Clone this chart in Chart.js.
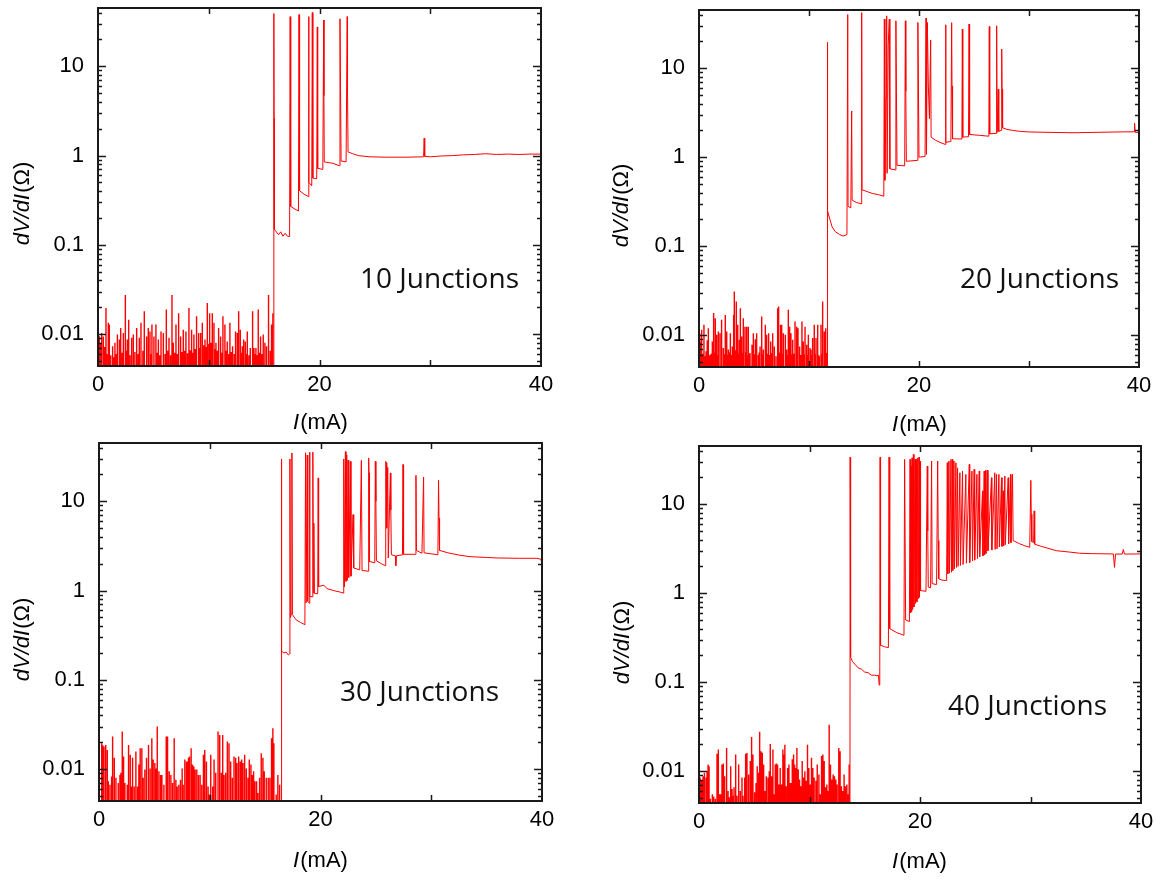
<!DOCTYPE html>
<html>
<head>
<meta charset="utf-8">
<title>dV/dI vs I</title>
<script src="https://cdn.jsdelivr.net/npm/chart.js@4.4.1/dist/chart.umd.min.js"></script>
<style>
  body { margin: 0; background: #fff; width: 1167px; height: 880px; position: relative; overflow: hidden; }
  canvas { position: absolute; }
</style>
</head>
<body>
<canvas id="c10" width="580" height="440" style="left:0;top:0"></canvas>
<canvas id="c20" width="587" height="440" style="left:580px;top:0"></canvas>
<canvas id="c30" width="580" height="440" style="left:0;top:440px"></canvas>
<canvas id="c40" width="587" height="440" style="left:580px;top:440px"></canvas>
<script>
// ---- axes ----
const xTicks = [0, 20, 40];
const yTicks = [0.01, 0.1, 1, 10];
const names = ['10 Junctions', '20 Junctions', '30 Junctions', '40 Junctions'];
// trace drops below the bottom of the axis between noise spikes
const noiseFloor = 0.002;

// ---- 10 junctions ----
const spikeI10 = [0.05,0.12,0.2,0.33,0.48,0.6,0.72,0.8,0.93,1.02,1.15,1.32,1.42,1.53,1.65,1.75,1.93,2.05,2.18,2.29,2.47,2.56,2.65,2.77,2.9,3.04,3.19,3.33,3.49,3.62,3.73,3.88,4.05,4.18,4.39,4.54,4.69,4.78,4.87,5.05,5.23,5.35,5.45,5.57,5.69,5.9,6.05,6.17,6.3,6.41,6.55,6.68,6.8,6.92,7.04,7.16,7.28,7.46,7.58,7.7,7.82,7.94,8.08,8.21,8.33,8.45,8.55,8.66,8.78,8.9,9.09,9.18,9.27,9.42,9.55,9.66,9.77,9.87,9.95,10.04,10.11,10.2,10.32,10.47,10.56,10.65,10.77,10.89,11.07,11.18,11.28,11.46,11.55,11.67,11.8,11.91,12.03,12.15,12.3,12.42,12.58,12.7,12.85,12.95,13.03,13.15,13.3,13.4,13.48,13.62,13.75,13.96,14.08,14.17,14.26,14.38,14.47,14.58,14.68,14.8,14.92,15.07,15.22,15.35,15.43,15.55,15.67,15.79];
const spikeR10 = [0.0085,0.0095,0.008,0.0103,0.0094,0.0072,0.0196,0.006,0.0134,0.0128,0.0058,0.0073,0.0055,0.008,0.006,0.0099,0.0087,0.0117,0.0062,0.0103,0.0275,0.0065,0.0087,0.0145,0.0058,0.0091,0.0099,0.0063,0.0117,0.006,0.0091,0.0134,0.0065,0.0181,0.0094,0.0117,0.0107,0.006,0.0128,0.0094,0.0128,0.0062,0.0087,0.0058,0.0107,0.0103,0.006,0.0189,0.0065,0.0091,0.0058,0.0275,0.008,0.0062,0.0128,0.006,0.0172,0.0094,0.0063,0.0112,0.0065,0.0107,0.0061,0.0196,0.0066,0.0112,0.0062,0.0099,0.0068,0.0159,0.0103,0.007,0.0103,0.0134,0.0075,0.0087,0.0072,0.0223,0.0078,0.0095,0.0172,0.008,0.0172,0.0134,0.0068,0.008,0.0065,0.0117,0.0094,0.0062,0.0159,0.0128,0.0065,0.0083,0.006,0.0134,0.0063,0.0073,0.006,0.0107,0.0103,0.0181,0.0112,0.0062,0.0073,0.0087,0.0083,0.006,0.0107,0.0058,0.007,0.0181,0.007,0.006,0.007,0.0058,0.0189,0.0062,0.0094,0.006,0.0099,0.008,0.0073,0.006,0.0275,0.0065,0.0128,0.0172];
const curveI10 = [15.88,15.88,15.9,15.92,16.1,16.3,16.5,16.7,16.9,17.1,17.3,17.35,17.4,17.7,18.1,18.15,18.2,18.6,19.0,19.02,19.05,19.3,19.35,19.4,19.75,19.8,19.82,19.85,20.3,20.38,20.4,20.43,21.2,21.8,21.85,21.9,21.95,22.4,22.5,22.53,22.58,23,23.5,24.5,26,28,29.4,29.45,29.5,30,31,32,33,34,35,36,37,38,39,40];
const curveR10 = [0.002,39,2.6,0.15,0.14,0.13,0.14,0.125,0.135,0.125,0.124,36,0.27,0.255,0.24,38,0.405,0.37,0.347,36,0.5,0.46,40,0.56,0.55,27.6,4.4,0.72,0.7,33,4.7,0.85,0.82,0.77,34,5.5,0.87,0.85,36,5.2,1.1,1.05,1.0,0.97,0.96,0.96,0.97,1.57,0.98,0.97,0.99,1.0,1.02,1.03,1.05,1.03,1.04,1.03,1.04,1.04];

// ---- 20 junctions ----
const spikeI20 = [0.03,0.09,0.17,0.24,0.35,0.45,0.55,0.64,0.75,0.85,0.93,1.0,1.1,1.21,1.33,1.4,1.48,1.61,1.68,1.76,1.91,2.0,2.09,2.21,2.3,2.39,2.52,2.6,2.67,2.76,2.85,2.95,3.03,3.15,3.21,3.3,3.39,3.52,3.6,3.67,3.76,3.88,3.95,4.03,4.18,4.26,4.33,4.4,4.48,4.56,4.64,4.82,4.94,5.03,5.12,5.24,5.39,5.47,5.55,5.7,5.78,5.85,6.03,6.15,6.25,6.33,6.42,6.52,6.6,6.7,6.85,7.0,7.15,7.24,7.33,7.42,7.52,7.6,7.67,7.85,7.97,8.05,8.12,8.2,8.27,8.36,8.45,8.52,8.62,8.73,8.88,9.0,9.1,9.18,9.27,9.36,9.48,9.56,9.64,9.79,9.87,9.94,10.09,10.18,10.26,10.33,10.48,10.56,10.64,10.79,10.87,10.94,11.09,11.17,11.24,11.39,11.52,11.6];
const spikeR20 = [0.0095,0.0105,0.0085,0.0115,0.0062,0.0131,0.0058,0.0066,0.0088,0.012,0.0059,0.006,0.0062,0.0085,0.0178,0.0064,0.0155,0.0101,0.006,0.011,0.0105,0.0063,0.0149,0.0072,0.0061,0.0169,0.011,0.006,0.0069,0.0064,0.0105,0.006,0.0075,0.0169,0.031,0.0068,0.0239,0.0131,0.0062,0.0089,0.0201,0.0097,0.0063,0.0155,0.0125,0.0065,0.0125,0.006,0.0125,0.0062,0.0063,0.0078,0.0105,0.0061,0.009,0.0105,0.006,0.0064,0.0075,0.0162,0.0061,0.0069,0.0131,0.0101,0.0062,0.0105,0.006,0.0085,0.0063,0.0105,0.0075,0.0058,0.0201,0.021,0.0064,0.0131,0.0131,0.0062,0.0105,0.0101,0.0069,0.006,0.0193,0.0063,0.0125,0.0105,0.0061,0.0089,0.0062,0.0143,0.0125,0.012,0.0062,0.0075,0.006,0.0143,0.0085,0.0061,0.0125,0.0078,0.006,0.0101,0.0072,0.0069,0.006,0.0093,0.0131,0.0062,0.0093,0.0131,0.006,0.0058,0.0131,0.0062,0.0239,0.011,0.012,0.0063];
const curveI20 = [11.67,11.67,11.7,11.9,12.1,12.4,12.8,13.1,13.45,13.52,13.55,13.8,13.88,13.92,14.3,14.73,14.79,14.82,15.3,15.8,16.3,16.8,16.85,16.9,17.0,17.06,17.1,17.2,17.3,17.35,17.85,17.9,17.95,18.0,18.7,18.76,18.8,18.85,19.85,19.9,19.95,20.0,20.55,20.64,20.68,20.76,20.85,20.95,21.06,21.1,21.5,22.0,22.39,22.42,22.45,22.9,22.97,23.0,23.05,23.9,23.94,23.98,24.5,24.55,24.6,25.5,26.35,26.39,26.43,27.0,27.06,27.1,27.2,27.25,27.48,27.52,27.55,27.6,28.0,28.5,29.2,30,32,34,36,38,39.55,39.6,39.65,40];
const curveR20 = [0.002,19.5,0.25,0.2,0.165,0.145,0.135,0.13,0.135,40,0.28,0.27,3.3,0.33,0.31,0.3,42,0.43,0.41,0.39,0.38,0.364,35.6,0.55,4.6,38.7,0.66,17.9,35.6,0.74,0.72,34,5.5,0.81,0.8,34,5.5,0.9,0.92,32.6,5.8,1.0,1.02,36.5,1.08,32.6,6.3,2.7,20.7,1.68,1.55,1.45,1.39,30.7,1.47,1.5,32.4,6.3,1.61,1.6,27.5,1.68,1.7,31.3,1.8,1.76,1.72,29.4,1.83,1.85,29.9,1.9,5.8,1.95,2.0,16.4,5.8,2.14,2.05,2.0,1.95,1.92,1.9,1.88,1.9,1.92,1.93,2.4,1.9,1.9];

// ---- 30 junctions ----
const spikeI30 = [0.02,0.24,0.33,0.45,0.57,0.63,0.75,0.84,0.99,1.14,1.23,1.38,1.53,1.74,1.89,1.98,2.1,2.22,2.34,2.55,2.67,2.82,2.94,3.03,3.18,3.33,3.48,3.6,3.72,3.87,3.99,4.14,4.29,4.47,4.62,4.77,4.89,5.04,5.14,5.26,5.41,5.56,5.68,5.86,6.07,6.19,6.34,6.49,6.64,6.79,6.94,7.06,7.21,7.36,7.51,7.6,7.75,7.9,7.99,8.08,8.17,8.32,8.44,8.56,8.68,8.83,8.98,9.13,9.28,9.43,9.55,9.7,9.85,9.97,10.09,10.27,10.39,10.54,10.75,10.9,11.05,11.17,11.29,11.44,11.59,11.74,11.89,12.04,12.19,12.34,12.46,12.61,12.76,12.88,13.0,13.15,13.3,13.45,13.57,13.72,13.84,13.96,14.08,14.23,14.35,14.5,14.65,14.8,14.92,15.1,15.28,15.43,15.58,15.7,15.79,16.0,16.15,16.31];
const spikeR30 = [0.0373,0.0195,0.0187,0.018,0.0187,0.0086,0.0164,0.0073,0.0067,0.0083,0.0232,0.0134,0.008,0.007,0.0086,0.0091,0.0264,0.0139,0.007,0.0067,0.0187,0.0145,0.0064,0.0134,0.0064,0.0158,0.0064,0.0113,0.0172,0.0172,0.008,0.0099,0.0134,0.0187,0.0102,0.0222,0.0128,0.0117,0.0102,0.0301,0.0095,0.0086,0.0086,0.0067,0.0232,0.0232,0.0095,0.0086,0.007,0.0222,0.0076,0.0064,0.0067,0.0076,0.0102,0.0067,0.0128,0.0122,0.0122,0.0134,0.0139,0.0172,0.0113,0.0108,0.0099,0.0099,0.0086,0.0086,0.0067,0.0145,0.0164,0.0122,0.0064,0.0052,0.0145,0.0064,0.0128,0.0091,0.0264,0.0242,0.0091,0.0242,0.0086,0.0091,0.0204,0.0195,0.0122,0.008,0.0139,0.0134,0.0117,0.0139,0.0122,0.0128,0.0117,0.0145,0.0102,0.008,0.0128,0.0113,0.0086,0.0095,0.0073,0.0073,0.0054,0.008,0.0151,0.0134,0.0095,0.008,0.008,0.008,0.0222,0.0288,0.0195,0.0052,0.0086,0.0067];
const curveI30 = [16.45,16.47,16.5,16.7,16.9,17.1,17.2,17.24,17.28,17.38,17.42,17.46,17.8,18.2,18.59,18.65,18.7,18.8,18.85,19.0,19.01,19.05,19.3,19.31,19.35,19.4,19.45,19.75,19.79,19.83,20.3,20.6,21.2,21.8,22.04,22.1,22.15,22.25,22.3,22.37,22.42,22.49,22.55,22.7,22.75,22.94,23.0,23.54,23.69,23.75,24.29,24.35,24.38,24.42,24.9,24.95,25.0,25.05,25.5,25.86,25.89,25.94,25.98,26.07,26.12,26.31,26.35,26.4,26.76,26.8,26.85,27.4,27.45,27.5,28.56,28.62,28.66,29.16,29.31,29.35,30.6,30.66,30.7,30.75,31.5,32.5,33.5,35,36,38,39.5,39.9,40];
const curveR30 = [0.002,29.8,0.21,0.2,0.205,0.19,0.195,29.8,0.5,0.55,34.8,0.54,0.47,0.44,0.415,35,0.73,33,0.76,0.72,35.5,0.86,0.85,35.5,0.94,5.7,0.93,0.92,18.3,1.11,1.15,1.05,1.0,0.96,0.94,29.8,1.1,36,1.27,33,1.3,29,1.4,28,1.45,7.1,1.79,1.71,28.8,1.68,1.65,30.6,20.8,2.12,2.05,28,10,2.15,2.0,1.9,28,27,5,24,2.32,20.8,8,2.52,2.45,1.9,2.45,2.52,25.8,2.55,2.55,19.5,2.82,2.62,18.7,2.65,2.52,17.2,6.5,2.82,2.65,2.5,2.4,2.35,2.32,2.3,2.3,2.25,2.0];

// ---- 40 junctions ----
const spikeI40 = [0.1,0.19,0.28,0.37,0.49,0.64,0.73,0.82,0.91,1.03,1.21,1.33,1.48,1.63,1.75,1.87,1.96,2.08,2.2,2.32,2.45,2.53,2.63,2.75,2.87,2.99,3.08,3.17,3.32,3.44,3.59,3.74,3.89,3.98,4.13,4.22,4.34,4.49,4.64,4.76,4.88,5.03,5.16,5.27,5.4,5.49,5.61,5.73,5.85,5.97,6.09,6.24,6.36,6.45,6.57,6.69,6.81,6.9,6.99,7.11,7.23,7.35,7.47,7.59,7.68,7.77,7.89,8.02,8.14,8.26,8.35,8.44,8.56,8.65,8.77,8.86,8.98,9.1,9.22,9.34,9.46,9.58,9.7,9.82,9.94,10.06,10.18,10.3,10.42,10.58,10.7,10.85,10.97,11.09,11.21,11.33,11.45,11.57,11.69,11.78,11.9,12.02,12.14,12.26,12.38,12.5,12.65,12.77,12.89,13.01,13.13,13.25,13.38,13.5,13.59];
const spikeR40 = [0.0085,0.0078,0.0078,0.0088,0.0096,0.0085,0.01,0.0119,0.0114,0.0049,0.0055,0.0052,0.0049,0.0157,0.0175,0.0055,0.0055,0.0119,0.0122,0.0088,0.0154,0.0182,0.006,0.0051,0.0114,0.0063,0.0053,0.0066,0.0154,0.0053,0.0119,0.006,0.0085,0.0053,0.0085,0.0157,0.016,0.0092,0.013,0.0242,0.0154,0.0058,0.0074,0.0114,0.0096,0.0277,0.0168,0.0161,0.0119,0.006,0.0088,0.0085,0.01,0.0202,0.0088,0.0175,0.0055,0.0119,0.0122,0.0119,0.0071,0.0109,0.0071,0.0175,0.0154,0.0199,0.0068,0.0109,0.0119,0.0074,0.0074,0.0136,0.0154,0.0119,0.0109,0.0182,0.0105,0.0081,0.0068,0.013,0.0085,0.01,0.0078,0.0199,0.0109,0.0071,0.0142,0.0109,0.0085,0.0078,0.0119,0.0092,0.0055,0.0148,0.0154,0.013,0.0066,0.0071,0.006,0.0333,0.0119,0.0081,0.0092,0.0088,0.0081,0.0071,0.0182,0.0168,0.0068,0.006,0.0092,0.0068,0.0071,0.0055,0.0119];
const curveI40 = [13.66,13.68,13.72,13.9,14.1,14.4,14.7,15.0,15.3,15.6,15.9,16.1,16.24,16.3,16.36,16.39,16.43,16.8,17.14,17.2,17.24,17.28,17.9,18.55,18.61,18.7,19.04,19.1,19.15,19.19,19.24,19.28,19.33,19.4,19.45,19.55,19.6,19.67,19.72,19.8,19.85,19.91,19.95,20.0,20.05,20.54,20.66,20.7,20.75,20.96,21.05,21.1,21.5,21.6,21.65,21.7,22.0,22.41,22.47,22.52,22.62,22.67,22.8,22.85,22.92,22.97,23.07,23.12,23.25,23.3,23.4,23.45,23.61,23.66,23.85,23.9,24.15,24.2,24.46,24.5,24.7,24.75,24.9,24.95,25.15,25.2,25.36,25.4,25.66,25.7,25.81,25.85,25.93,25.97,26.11,26.15,26.47,26.5,26.77,26.8,26.93,26.97,27.14,27.18,27.38,27.42,27.53,27.57,27.68,27.72,27.98,28.02,28.19,28.23,28.37,28.43,29.0,29.5,29.93,30.03,30.07,30.12,30.28,30.33,30.38,31.0,32.35,33.5,34.45,35.5,37.5,37.6,37.7,38.3,38.4,38.5,40];
const curveR40 = [0.002,33.7,0.19,0.17,0.16,0.145,0.14,0.13,0.128,0.12,0.12,0.118,0.12,0.093,0.15,33.7,0.26,0.25,0.245,33.7,3.4,0.4,0.36,0.337,31.8,0.5,0.48,31.8,0.6,26.8,0.62,33.1,0.66,36.2,0.7,31.8,0.77,31.8,0.8,33.1,0.87,33.7,0.9,30.5,1.07,1.05,26.8,5,1.17,1.15,30.5,1.28,1.25,30.5,3.9,1.45,1.4,1.39,29.2,1.65,30.5,1.68,31.8,1.72,31.8,1.8,30.5,1.88,29.2,1.95,25.6,2.0,22.5,2.05,23.5,2.1,21.6,2.17,28,2.2,23.5,2.3,24.6,2.35,21.6,2.45,23.5,2.55,14.1,2.63,23.5,2.7,24,2.8,24,3.0,19.8,3.05,22.5,3.1,21.6,3.15,21.6,3.3,19.8,3.35,14.1,3.4,20.7,3.5,19.8,3.57,21.6,3.7,21.6,3.9,3.6,3.4,3.28,18.5,7.7,3.8,3.7,8.4,3.55,3.35,3.0,2.9,2.81,2.78,2.76,1.95,2.75,2.75,3.1,2.75,2.76];

// noise spikes are vertical strokes up from the floor
function spikes(spI, spR) {
    var pts = [];
    spI.forEach(function (x, i) {
        pts.push({x: x, y: noiseFloor}, {x: x, y: spR[i]}, {x: x, y: noiseFloor});
    });
    return pts;
}

function curve(cI, cR) {
    return cI.map(function (x, i) { return {x: x, y: cR[i]}; });
}

//  Frame, inward ticks, axis titles and the junction label.
var framePlugin = {
    id: 'frame',
    afterDraw: function (chart, args, o) {
        var ctx = chart.ctx, a = chart.chartArea;
        var xs = chart.scales.x, ys = chart.scales.y;
        ctx.save();
        ctx.strokeStyle = '#1a1a1a';
        ctx.lineWidth = 1.5;
        ctx.beginPath();
        // y ticks, majors at decades and minors at 2..9
        for (var e = -3; e <= 1; e++) {
            for (var m = 1; m <= 9; m++) {
                var v = m * Math.pow(10, e);
                if (v < ys.min || v > ys.max) continue;
                var py = Math.round(ys.getPixelForValue(v)) + 0.5;
                var len = m === 1 ? 8 : 4;
                ctx.moveTo(a.left, py); ctx.lineTo(a.left + len, py);
                ctx.moveTo(a.right, py); ctx.lineTo(a.right - len, py);
            }
        }
        // x ticks every 10 mA
        [10, 20, 30].forEach(function (v) {
            var px = Math.round(xs.getPixelForValue(v)) + 0.5;
            ctx.moveTo(px, a.bottom); ctx.lineTo(px, a.bottom - 6);
            ctx.moveTo(px, a.top); ctx.lineTo(px, a.top + 6);
        });
        ctx.stroke();
        ctx.lineWidth = 2;
        ctx.strokeRect(a.left, a.top, a.right - a.left, a.bottom - a.top);

        ctx.fillStyle = '#000';
        ctx.textBaseline = 'middle';
        ctx.textAlign = 'left';
        var ital = 'italic 22px "Liberation Sans", Arial, sans-serif';
        var reg = '22px "Liberation Sans", Arial, sans-serif';

        // x title: I(mA)
        ctx.font = ital;
        var w1 = ctx.measureText('I').width;
        ctx.font = reg;
        var w2 = ctx.measureText('(mA)').width;
        var sx = o.xTitle[0] - (w1 + w2) / 2;
        ctx.font = ital; ctx.fillText('I', sx, o.xTitle[1]);
        ctx.font = reg; ctx.fillText('(mA)', sx + w1 + 1, o.xTitle[1]);

        // y title: dV/dI(Ω), rotated
        ctx.save();
        ctx.translate(o.yTitle[0], o.yTitle[1]);
        ctx.rotate(-Math.PI / 2);
        ctx.font = ital;
        var t1 = ctx.measureText('dV/dI').width;
        ctx.font = reg;
        var t2 = ctx.measureText('(Ω)').width;
        var sy = -(t1 + t2) / 2;
        ctx.font = ital; ctx.fillText('dV/dI', sy, 0);
        ctx.font = reg; ctx.fillText('(Ω)', sy + t1 + 1, 0);
        ctx.restore();

        // junction count label
        ctx.font = '28px "Open Sans", sans-serif';
        ctx.fillStyle = '#111';
        ctx.fillText(o.label, o.labelPos[0], o.labelPos[1]);
        ctx.restore();
    }
};

var panels = [
    {id: 'c10', spI: spikeI10, spR: spikeR10, cI: curveI10, cR: curveR10, label: names[0],
     box: {left: 98, top: 8, right: 39, bottom: 74}, labelPos: [360, 280], yTitle: [23, 204], xTitle: [320, 423]},
    {id: 'c20', spI: spikeI20, spR: spikeR20, cI: curveI20, cR: curveR20, label: names[1],
     box: {left: 119, top: 10, right: 28, bottom: 73}, labelPos: [380, 280], yTitle: [42, 206], xTitle: [339, 425]},
    {id: 'c30', spI: spikeI30, spR: spikeR30, cI: curveI30, cR: curveR30, label: names[2],
     box: {left: 99, top: 3, right: 38, bottom: 79}, labelPos: [340, 253], yTitle: [23, 200], xTitle: [320, 421]},
    {id: 'c40', spI: spikeI40, spR: spikeR40, cI: curveI40, cR: curveR40, label: names[3],
     box: {left: 119, top: 6, right: 26, bottom: 77}, labelPos: [368, 267], yTitle: [43, 203], xTitle: [339, 422]}
];

var tickFont = {family: '"Liberation Sans", Arial, sans-serif', size: 22};

panels.forEach(function (p) {
    new Chart(document.getElementById(p.id), {
        type: 'line',
        data: {
            datasets: [{
                data: spikes(p.spI, p.spR),
                borderColor: '#ff0000',
                borderWidth: 1.4,
                pointRadius: 0,
                tension: 0,
                fill: false
            }, {
                data: curve(p.cI, p.cR),
                borderColor: '#ff0000',
                borderWidth: 1,
                pointRadius: 0,
                tension: 0,
                fill: false
            }]
        },
        options: {
            responsive: false,
            animation: false,
            devicePixelRatio: 1,
            layout: {padding: {left: 0, top: p.box.top, right: p.box.right, bottom: 0}},
            plugins: {
                legend: {display: false},
                tooltip: {enabled: false},
                frame: {label: p.label, labelPos: p.labelPos, yTitle: p.yTitle, xTitle: p.xTitle}
            },
            scales: {
                x: {
                    type: 'linear', min: 0, max: 40,
                    grid: {display: false, drawTicks: false},
                    border: {display: false},
                    afterBuildTicks: function (s) { s.ticks = xTicks.map(function (v) { return {value: v}; }); },
                    afterFit: function (s) { s.height = p.box.bottom; s.paddingLeft = 0; s.paddingRight = 0; },
                    ticks: {font: tickFont, color: '#000', padding: 6, autoSkip: false, maxRotation: 0}
                },
                y: {
                    type: 'logarithmic', min: 0.0044, max: 45,
                    grid: {display: false, drawTicks: false},
                    border: {display: false},
                    afterBuildTicks: function (s) { s.ticks = yTicks.map(function (v) { return {value: v}; }); },
                    afterFit: function (s) { s.width = p.box.left; s.paddingTop = 0; s.paddingBottom = 0; },
                    ticks: {font: tickFont, color: '#000', padding: 14, autoSkip: false,
                            callback: function (v) { return String(v); }}
                }
            }
        },
        plugins: [framePlugin]
    });
});
</script>
</body>
</html>
